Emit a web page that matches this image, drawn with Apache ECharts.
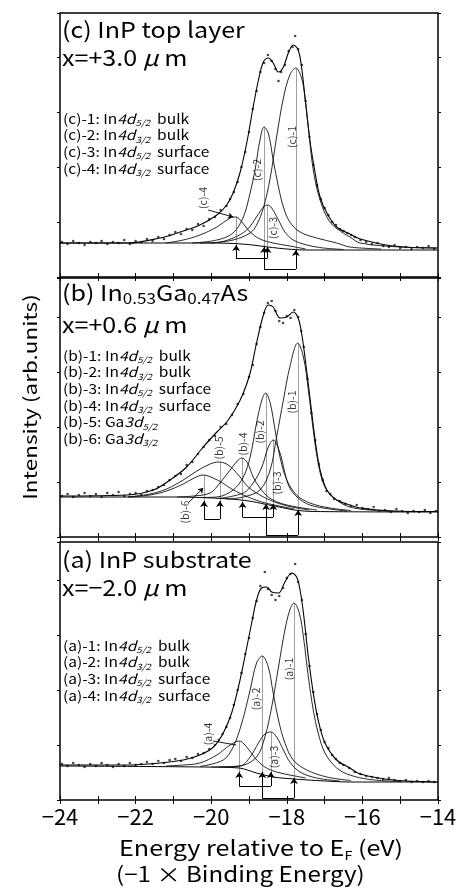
<!DOCTYPE html>
<html>
<head>
<meta charset="utf-8">
<script src="https://cdn.jsdelivr.net/npm/echarts@6/dist/echarts.min.js"></script>
<style>
  html, body { margin: 0; padding: 0; background: #fff; }
  #chart { width: 460px; height: 888px; }
</style>
</head>
<body>
<div id="chart"></div>
<script>
// x axis: energy relative to EF (eV)
var energyMin = -24;
var energyMax = -14;

// ---- panel (c) InP top layer ----
var dotsC = [[-23.95,35],[-23.8,33],[-23.65,36],[-23.5,34],[-23.35,32],[-23.2,35],[-23.05,34],[-22.9,36],[-22.75,33],[-22.6,35],[-22.45,34],[-22.3,37],[-22.15,33],[-22.0,36],[-21.85,35],[-21.7,38],[-21.55,36],[-21.4,40],[-21.25,38],[-21.1,42],[-20.95,45],[-20.8,43],[-20.65,48],[-20.5,47],[-20.35,53],[-20.2,51],[-20.05,58],[-19.9,60],[-19.75,67],[-19.6,71],[-19.5,78],[-19.4,85],[-19.3,95],[-19.2,110],[-19.1,125],[-19.0,145],[-18.9,168],[-18.8,186],[-18.7,205],[-18.6,214],[-18.5,222],[-18.4,216],[-18.3,208],[-18.22,196],[-18.15,205],[-18.05,212],[-17.95,226],[-17.85,230],[-17.78,241],[-17.7,228],[-17.6,212],[-17.5,176],[-17.4,140],[-17.3,112],[-17.2,92],[-17.1,78],[-17.0,69],[-16.9,62],[-16.8,55],[-16.7,52],[-16.6,48],[-16.5,46],[-16.4,44],[-16.3,42],[-16.2,40],[-16.05,37],[-15.9,35],[-15.75,33],[-15.6,34],[-15.45,31],[-15.3,30],[-15.15,32],[-15.0,29],[-14.85,30],[-14.7,28],[-14.55,30],[-14.4,29],[-14.25,31],[-14.1,28]];
var fitC = [[-24,34],[-22.2,34],[-21.35,39],[-20.9,44],[-20.3,52],[-19.85,62],[-19.59,72],[-19.42,84],[-19.24,104],[-19.06,134],[-18.89,170],[-18.75,197],[-18.62,215],[-18.49,219],[-18.36,214],[-18.22,205],[-18.09,210],[-17.96,224],[-17.83,232],[-17.7,227],[-17.61,210],[-17.52,180],[-17.39,137],[-17.25,104],[-17.12,80],[-16.94,64],[-16.68,50],[-16.33,43],[-16.06,38],[-15.19,31],[-14.03,29]];
var bgC = [[-24,34],[-20,34],[-19.4,33.5],[-18.9,32],[-18.5,30],[-18.0,28],[-17.5,27],[-16,27],[-14,27]];
var compC1 = [[-20.0,34],[-19.42,37],[-18.97,44],[-18.8,52],[-18.62,69],[-18.44,99],[-18.27,140],[-18.09,179],[-17.92,202],[-17.76,209],[-17.61,199],[-17.52,180],[-17.43,150],[-17.3,107],[-17.12,77],[-16.86,55],[-16.51,44],[-16.33,40],[-16.06,34],[-15.0,30],[-14.03,29]];
var compC2 = [[-20.5,34],[-19.85,37],[-19.42,44],[-19.15,60],[-18.97,84],[-18.84,107],[-18.71,137],[-18.6,150],[-18.49,144],[-18.36,117],[-18.22,90],[-18.09,70],[-17.92,55],[-17.65,45],[-17.21,39],[-16.68,34],[-16.33,30],[-15.5,28]];
var compC3 = [[-20.3,34],[-19.85,34.5],[-19.42,39],[-19.06,47],[-18.8,60],[-18.62,70],[-18.51,72],[-18.4,69],[-18.22,57],[-18.05,45],[-17.83,37],[-17.47,32],[-17.03,29],[-16.5,27.5]];
var compC4 = [[-21.2,34],[-20.74,37],[-20.3,42],[-19.85,50],[-19.5,59],[-19.34,60],[-19.19,55],[-18.97,45],[-18.71,38],[-18.36,34],[-17.92,31],[-17.5,28]];
var centersC = [-17.76, -18.60, -18.51, -19.34];
var peaksC = [209, 150, 72, 60];
var tipsC = [27, 30, 30, 32];
var pairsC = [[0, 1], [2, 3]];
var levelsC = [8, 19];
var namesC = ['(c)-1', '(c)-2', '(c)-3', '(c)-4'];

// ---- panel (b) In0.53Ga0.47As ----
var dotsB = [[-23.95,41],[-23.8,43],[-23.65,40],[-23.5,42],[-23.35,44],[-23.2,41],[-23.05,43],[-22.9,40],[-22.75,44],[-22.6,42],[-22.45,45],[-22.3,41],[-22.15,43],[-22.0,44],[-21.85,42],[-21.7,46],[-21.55,47],[-21.4,50],[-21.25,52],[-21.1,57],[-20.95,61],[-20.8,63],[-20.65,72],[-20.5,75],[-20.35,83],[-20.2,90],[-20.05,97],[-19.9,101],[-19.75,110],[-19.6,113],[-19.45,122],[-19.3,133],[-19.15,143],[-19.0,160],[-18.9,172],[-18.8,193],[-18.7,210],[-18.6,224],[-18.5,234],[-18.4,236],[-18.3,226],[-18.2,216],[-18.1,214],[-18.0,221],[-17.9,219],[-17.8,227],[-17.7,220],[-17.62,206],[-17.55,190],[-17.45,158],[-17.35,124],[-17.25,97],[-17.15,73],[-17.05,57],[-16.95,46],[-16.85,43],[-16.75,38],[-16.6,36],[-16.45,33],[-16.3,31],[-16.15,32],[-16.0,29],[-15.85,28],[-15.7,30],[-15.55,26],[-15.4,27],[-15.25,25],[-15.1,28],[-14.95,26],[-14.8,24],[-14.65,26],[-14.5,25],[-14.35,27],[-14.2,24],[-14.05,26]];
var fitB = [[-24,41],[-22.24,42],[-21.53,47],[-21.09,57],[-20.65,70],[-20.21,90],[-19.85,105],[-19.59,115],[-19.33,130],[-19.15,144],[-18.97,164],[-18.8,194],[-18.62,222],[-18.49,232],[-18.36,230],[-18.18,219],[-18.0,220],[-17.83,225],[-17.7,219],[-17.61,204],[-17.52,180],[-17.39,140],[-17.25,97],[-17.12,67],[-16.94,47],[-16.68,37],[-16.33,32],[-16.06,29],[-15.18,26],[-14.03,25.5]];
var bgB = [[-24,40],[-21,40],[-20.3,39.5],[-19.5,38],[-19.0,36],[-18.6,33],[-18.2,30],[-17.8,27],[-17.3,25.5],[-14,25]];
var compB1 = [[-19.6,38],[-19.15,40],[-18.71,47],[-18.44,67],[-18.27,100],[-18.09,137],[-17.92,170],[-17.71,194],[-17.56,180],[-17.43,147],[-17.3,107],[-17.17,74],[-16.99,50],[-16.68,37],[-16.33,30],[-15.8,27],[-15.0,25.5]];
var compB2 = [[-20.3,39.5],[-19.85,40],[-19.42,47],[-19.15,60],[-18.97,80],[-18.8,114],[-18.66,137],[-18.56,144],[-18.44,134],[-18.31,107],[-18.18,80],[-18.0,57],[-17.74,42],[-17.39,34],[-16.86,29],[-16.3,26.5]];
var compB3 = [[-19.8,38.5],[-19.15,44],[-18.89,54],[-18.66,70],[-18.49,90],[-18.36,97],[-18.18,84],[-18.05,64],[-17.92,49],[-17.7,39],[-17.39,32],[-16.86,28],[-16.4,26]];
var compB4 = [[-20.9,40],[-20.47,41],[-20.03,44],[-19.77,54],[-19.5,67],[-19.31,76],[-19.19,79],[-19.04,74],[-18.89,60],[-18.71,49],[-18.49,40],[-18.18,34],[-17.74,30],[-17.2,27]];
var compB5 = [[-22.2,40],[-21.62,43],[-21.18,48],[-20.74,57],[-20.38,66],[-20.03,73],[-19.79,75],[-19.55,72],[-19.28,62],[-19.02,50],[-18.71,42],[-18.36,35.5],[-17.92,30.5],[-17.4,27]];
var compB6 = [[-22.2,40],[-21.62,42],[-21.18,46],[-20.74,53],[-20.45,59],[-20.21,62],[-19.95,59],[-19.7,54],[-19.5,49],[-19.15,42],[-18.71,35.5],[-18.27,31.5],[-17.8,28]];
var centersB = [-17.70, -18.55, -18.36, -19.17, -19.77, -20.19];
var peaksB = [194, 144, 97, 79, 75, 62];
var tipsB = [27, 33, 33, 35, 36, 36];
var pairsB = [[0, 1], [2, 3], [4, 5]];
var levelsB = [2, 20, 18];
var namesB = ['(b)-1', '(b)-2', '(b)-3', '(b)-4', '(b)-5', '(b)-6'];

// ---- panel (a) InP substrate ----
var dotsA = [[-23.95,36],[-23.8,34],[-23.65,37],[-23.5,35],[-23.35,33],[-23.2,36],[-23.05,34],[-22.9,37],[-22.75,35],[-22.6,33],[-22.45,36],[-22.3,34],[-22.15,37],[-22.0,35],[-21.85,36],[-21.7,38],[-21.55,36],[-21.4,39],[-21.25,37],[-21.1,40],[-20.95,41],[-20.8,39],[-20.65,43],[-20.5,42],[-20.35,46],[-20.2,47],[-20.05,51],[-19.9,55],[-19.8,60],[-19.7,66],[-19.6,73],[-19.5,82],[-19.4,95],[-19.3,110],[-19.2,127],[-19.1,146],[-19.0,162],[-18.9,182],[-18.8,199],[-18.7,214],[-18.58,228],[-18.5,211],[-18.4,205],[-18.3,200],[-18.2,204],[-18.1,212],[-18.0,222],[-17.9,226],[-17.78,236],[-17.7,218],[-17.6,200],[-17.5,166],[-17.4,134],[-17.3,108],[-17.2,86],[-17.1,70],[-17.0,58],[-16.9,52],[-16.8,45],[-16.7,41],[-16.6,37],[-16.5,35],[-16.35,32],[-16.2,28],[-16.05,26],[-15.9,24],[-15.75,23],[-15.6,22],[-15.45,21],[-15.3,22],[-15.15,20],[-15.0,19],[-14.85,20],[-14.7,18],[-14.55,19],[-14.4,18],[-14.25,19],[-14.1,18]];
var fitA = [[-24,35],[-22.24,35],[-21.35,37],[-20.74,40],[-20.3,45],[-19.94,53],[-19.68,67],[-19.46,87],[-19.28,113],[-19.11,143],[-18.93,177],[-18.8,200],[-18.67,212],[-18.53,213],[-18.4,208],[-18.22,207],[-18.05,218],[-17.87,227],[-17.74,223],[-17.65,210],[-17.56,187],[-17.43,143],[-17.3,107],[-17.17,80],[-16.99,57],[-16.68,40],[-16.33,32],[-16.06,26],[-15.18,20],[-14.03,18]];
var bgA = [[-24,34],[-20.2,33],[-19.26,32],[-18.8,27],[-18.36,23],[-17.81,21],[-17.21,19.5],[-16.33,18],[-14,18]];
var compA1 = [[-19.8,33],[-19.24,34],[-18.8,43],[-18.58,63],[-18.4,93],[-18.22,133],[-18.05,170],[-17.92,190],[-17.81,197],[-17.67,187],[-17.56,163],[-17.43,123],[-17.3,90],[-17.17,67],[-16.99,47],[-16.68,32],[-16.33,25],[-15.8,20.5],[-15.0,18.5]];
var compA2 = [[-20.3,33.5],[-19.68,40],[-19.42,53],[-19.19,77],[-18.97,110],[-18.8,137],[-18.65,144],[-18.49,133],[-18.36,107],[-18.22,80],[-18.05,57],[-17.83,40],[-17.47,30],[-16.94,23],[-16.3,19.5]];
var compA3 = [[-20.0,33],[-19.24,34],[-18.97,43],[-18.75,57],[-18.58,66],[-18.42,68],[-18.27,63],[-18.09,50],[-17.92,38],[-17.65,28],[-17.21,22],[-16.6,19]];
var compA4 = [[-21.2,34],[-20.74,35],[-20.3,37],[-19.85,45],[-19.5,55],[-19.26,59],[-19.06,53],[-18.84,42],[-18.58,33],[-18.27,28],[-17.92,25],[-17.5,22]];
var centersA = [-17.81, -18.65, -18.42, -19.26];
var peaksA = [197, 144, 68, 59];
var tipsA = [22, 28, 28, 28];
var pairsA = [[0, 1], [2, 3]];
var levelsA = [2, 14];
var namesA = ['(a)-1', '(a)-2', '(a)-3', '(a)-4'];

// ---- annotation placement (data coordinates) ----
var labelPosC = [[-17.86,140],[-18.79,107],[-18.36,49],[-20.22,79]];
var labelPosB = [[-17.85,135],[-18.71,105],[-18.27,54],[-19.17,93],[-19.79,89],[-20.69,25]];
var labelPosA = [[-17.93,131],[-18.81,101],[-18.34,43],[-20.08,66]];
var pointerC = [[-20.08,67],[-19.42,60]];
var pointerB = [[-20.61,34],[-20.21,49]];
var pointerA = [[-19.95,59],[-19.34,55]];

var layout = [{ top: 13, height: 264 }, { top: 278, height: 259 }, { top: 542, height: 258 }];

var panels = [
  { dots: dotsC, fit: fitC, bg: bgC, comps: [compC1, compC2, compC3, compC4], centers: centersC, peaks: peaksC, tips: tipsC, pairs: pairsC, levels: levelsC, names: namesC, labelPos: labelPosC, pointer: pointerC, arrowHead: true },
  { dots: dotsB, fit: fitB, bg: bgB, comps: [compB1, compB2, compB3, compB4, compB5, compB6], centers: centersB, peaks: peaksB, tips: tipsB, pairs: pairsB, levels: levelsB, names: namesB, labelPos: labelPosB, pointer: pointerB, arrowHead: true },
  { dots: dotsA, fit: fitA, bg: bgA, comps: [compA1, compA2, compA3, compA4], centers: centersA, peaks: peaksA, tips: tipsA, pairs: pairsA, levels: levelsA, names: namesA, labelPos: labelPosA, pointer: pointerA, arrowHead: false }
];

var FONT = '"Noto Sans CJK JP", "Noto Sans", sans-serif';

var grids = [], xAxes = [], yAxes = [], series = [];

panels.forEach(function (p, i) {
  grids.push({ left: 60, width: 378, top: layout[i].top, height: layout[i].height, show: true, borderColor: '#000', borderWidth: 1.5, backgroundColor: 'transparent' });
  var last = i === panels.length - 1;
  xAxes.push({
    gridIndex: i, type: 'value', min: energyMin, max: energyMax, interval: 1, position: 'bottom',
    axisLine: { show: false }, splitLine: { show: false },
    axisTick: { inside: true, length: 4, lineStyle: { color: '#000' } },
    axisLabel: {
      show: last, color: '#000', fontSize: 22, fontFamily: FONT, margin: 6,
      formatter: function (v) { return v % 2 === 0 ? '\u2212' + Math.abs(v) : ''; }
    }
  });
  xAxes.push({
    gridIndex: i, type: 'value', min: energyMin, max: energyMax, interval: 1, position: 'top',
    axisLine: { show: false }, splitLine: { show: false }, axisLabel: { show: false },
    axisTick: { inside: true, length: 4, lineStyle: { color: '#000' } }
  });
  [ 'left', 'right' ].forEach(function (pos) {
    yAxes.push({
      gridIndex: i, type: 'value', min: 0, max: layout[i].height, interval: 55, position: pos,
      axisLine: { show: false }, splitLine: { show: false }, axisLabel: { show: false },
      axisTick: { length: 3, lineStyle: { color: '#000' } }
    });
  });

  var ax = { xAxisIndex: i * 2, yAxisIndex: i * 2 };
  var addS = function (o) { series.push(Object.assign(o, ax)); };

  addS({ type: 'scatter', data: p.dots, symbolSize: 2.6, itemStyle: { color: '#1a1a1a' }, z: 3 });
  addS({ type: 'line', data: p.fit, smooth: 0.35, symbol: 'none', lineStyle: { color: '#000', width: 1.1 }, z: 4 });
  addS({ type: 'line', data: p.bg, smooth: 0.3, symbol: 'none', lineStyle: { color: '#000', width: 1 }, z: 4 });
  p.comps.forEach(function (c) {
    addS({ type: 'line', data: c, smooth: 0.35, symbol: 'none', lineStyle: { color: '#111', width: 0.9 }, z: 4 });
  });

  // peak centre lines
  addS({
    type: 'lines', coordinateSystem: 'cartesian2d', z: 2,
    data: p.centers.map(function (c, k) { return { coords: [[c, p.tips[k]], [c, p.peaks[k]]] }; }),
    lineStyle: { color: '#a0a0a0', width: 1, opacity: 1 }
  });

  // spin-orbit pair arrows and brackets
  var arrows = [], bars = [];
  p.pairs.forEach(function (pr, k) {
    var lv = p.levels[k];
    pr.forEach(function (ci) { arrows.push({ coords: [[p.centers[ci], lv], [p.centers[ci], p.tips[ci]]] }); });
    bars.push({ coords: [[p.centers[pr[0]], lv], [p.centers[pr[1]], lv]] });
  });
  addS({ type: 'lines', coordinateSystem: 'cartesian2d', data: arrows, symbol: ['none', 'arrow'], symbolSize: 6, lineStyle: { color: '#000', width: 1, opacity: 1 }, z: 5 });
  addS({ type: 'lines', coordinateSystem: 'cartesian2d', data: bars, lineStyle: { color: '#000', width: 1, opacity: 1 }, z: 5 });
  addS({ type: 'lines', coordinateSystem: 'cartesian2d', data: [{ coords: p.pointer }], symbol: p.arrowHead ? ['none', 'arrow'] : 'none', symbolSize: 5, lineStyle: { color: '#000', width: 0.9, opacity: 1 }, z: 5 });

  // rotated component labels
  addS({
    type: 'scatter', symbolSize: 1, itemStyle: { color: 'transparent' }, z: 6,
    data: p.labelPos.map(function (pt, k) { return { value: pt, name: p.names[k] }; }),
    label: { show: true, position: 'inside', rotate: 90, formatter: '{b}', color: '#000', fontSize: 10.5, fontFamily: FONT }
  });
});

// text blocks
var richBase = {
  t: { fontSize: 13.5, fontFamily: FONT, lineHeight: 17, verticalAlign: 'middle', color: '#000' },
  i: { fontSize: 13.5, fontFamily: FONT, fontStyle: 'italic', lineHeight: 17, verticalAlign: 'middle', color: '#000' },
  s: { fontSize: 8.5, fontFamily: FONT, fontStyle: 'italic', lineHeight: 17, verticalAlign: 'bottom', color: '#000' }
};
var legendC = [
  '{t|(c)-1: In}{i|4d}{s|5/2}{t|  bulk}',
  '{t|(c)-2: In}{i|4d}{s|3/2}{t|  bulk}',
  '{t|(c)-3: In}{i|4d}{s|5/2}{t|  surface}',
  '{t|(c)-4: In}{i|4d}{s|3/2}{t|  surface}'
];
var legendB = [
  '{t|(b)-1: In}{i|4d}{s|5/2}{t|  bulk}',
  '{t|(b)-2: In}{i|4d}{s|3/2}{t|  bulk}',
  '{t|(b)-3: In}{i|4d}{s|5/2}{t|  surface}',
  '{t|(b)-4: In}{i|4d}{s|3/2}{t|  surface}',
  '{t|(b)-5: Ga}{i|3d}{s|5/2}',
  '{t|(b)-6: Ga}{i|3d}{s|3/2}'
];
var legendA = [
  '{t|(a)-1: In}{i|4d}{s|5/2}{t|  bulk}',
  '{t|(a)-2: In}{i|4d}{s|3/2}{t|  bulk}',
  '{t|(a)-3: In}{i|4d}{s|5/2}{t|  surface}',
  '{t|(a)-4: In}{i|4d}{s|3/2}{t|  surface}'
];
var titleRich = {
  h: { fontSize: 22, fontFamily: FONT, lineHeight: 27, verticalAlign: 'middle', color: '#000' },
  hs: { fontSize: 15, fontFamily: FONT, lineHeight: 27, verticalAlign: 'bottom', color: '#000' },
  hm: { fontSize: 22, fontFamily: FONT, fontStyle: 'italic', lineHeight: 27, verticalAlign: 'middle', color: '#000' }
};
var titles = [
  ['{h|(c) InP top layer}', '{h|x=+3.0 }{hm|\u03bc}{h| m}'],
  ['{h|(b) In}{hs|0.53}{h|Ga}{hs|0.47}{h|As}', '{h|x=+0.6 }{hm|\u03bc}{h| m}'],
  ['{h|(a) InP substrate}', '{h|x=\u22122.0 }{hm|\u03bc}{h| m}']
];
var titleTops = [[16, 44], [279, 311], [546, 574]];
var legendTops = [110, 347, 637];
var legends = [legendC, legendB, legendA];

var graphic = [];
titles.forEach(function (t, i) {
  t.forEach(function (line, j) {
    graphic.push({ type: 'text', x: 62, y: titleTops[i][j], scaleX: 1.14, style: { text: line, rich: titleRich, fill: '#000', align: 'left', verticalAlign: 'top' } });
  });
  legends[i].forEach(function (line, j) {
    graphic.push({ type: 'text', x: 63, y: legendTops[i] + j * 16.7, scaleX: 1.15, style: { text: line, rich: richBase, fill: '#000', align: 'left', verticalAlign: 'top' } });
  });
});
graphic.push({ type: 'text', x: 30, y: 397, rotation: Math.PI / 2, scaleX: 1.25, style: { text: 'Intensity (arb.units)', font: '18px ' + FONT, fill: '#000', align: 'center', verticalAlign: 'middle' } });
graphic.push({ type: 'text', x: 119, y: 835, scaleX: 1.2, style: { text: '{e|Energy relative to E}{f|F}{e| (eV)}', rich: { e: { fontSize: 21, fontFamily: FONT, lineHeight: 26, verticalAlign: 'middle', color: '#000' }, f: { fontSize: 12, fontFamily: FONT, verticalAlign: 'bottom', lineHeight: 26, color: '#000' } }, fill: '#000', align: 'left', verticalAlign: 'top' } });
graphic.push({ type: 'text', x: 116, y: 864, scaleX: 1.15, style: { text: '(\u22121 \u00d7 Binding Energy)', font: '21px ' + FONT, fill: '#000', align: 'left', verticalAlign: 'top' } });

var chart = echarts.init(document.getElementById('chart'));
chart.setOption({
  animation: false,
  backgroundColor: '#fff',
  grid: grids,
  xAxis: xAxes,
  yAxis: yAxes,
  series: series,
  graphic: graphic
});
</script>
</body>
</html>
